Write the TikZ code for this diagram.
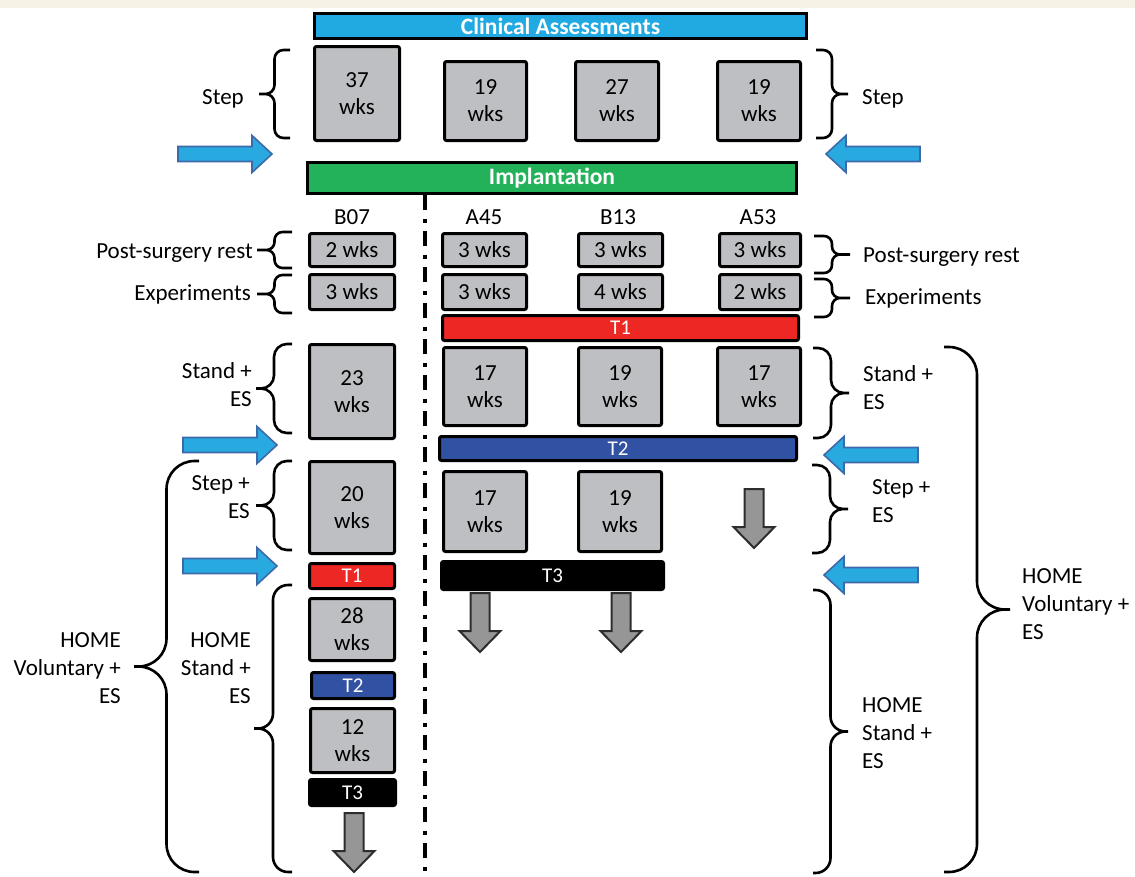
\documentclass[tikz,border=0pt]{standalone}
\usepackage{fontspec}
\setmainfont{Carlito}
\usetikzlibrary{calc}

\definecolor{clinblue}{RGB}{33,169,225}
\definecolor{implgreen}{RGB}{35,177,90}
\definecolor{t1red}{RGB}{237,40,36}
\definecolor{t2blue}{RGB}{49,81,163}
\definecolor{boxgray}{RGB}{190,191,194}
\definecolor{arrowblue}{RGB}{40,170,225}
\definecolor{arrowedge}{RGB}{62,104,168}
\definecolor{arrowgray}{RGB}{150,150,150}
\definecolor{arrowdark}{RGB}{45,45,45}
\definecolor{cream}{RGB}{246,242,229}

% block arrows: tail x, centre y
\newcommand{\bluearrowright}[2]{\draw[bluearrow] (#1,#2) ++(0,-7.5) -- ++(74,0) -- ++(0,-11) -- ++(20,18.5) -- ++(-20,18.5) -- ++(0,-11) -- ++(-74,0) -- cycle;}
\newcommand{\bluearrowleft}[2]{\draw[bluearrow] (#1,#2) ++(0,-7.5) -- ++(-74,0) -- ++(0,-11) -- ++(-20,18.5) -- ++(20,18.5) -- ++(0,-11) -- ++(74,0) -- cycle;}
% down arrow: centre x, top y
\newcommand{\grayarrowdown}[2]{\draw[grayarrow] (#1,#2) ++(-9.5,0) -- ++(19,0) -- ++(0,38) -- ++(11,0) -- ++(-20.5,21) -- ++(-20.5,-21) -- ++(11,0) -- cycle;}
% curly bracket: end x, tip x, top y, bottom y, radius
\newcommand{\curly}[5]{\draw[brc, rounded corners=#5] (#1,#3) -| ({(#1+#2)/2},{(#3+#4)/2}) -- (#2,{(#3+#4)/2}) (#1,#4) -| ({(#1+#2)/2},{(#3+#4)/2}) -- (#2,{(#3+#4)/2});}

\begin{document}
\begin{tikzpicture}[x=1pt,y=-1pt,
    wkbox/.style={draw, line width=3pt, fill=boxgray, rounded corners=2pt, inner sep=0pt, align=center, font=\fontsize{23}{27}\selectfont},
    tbar/.style={draw, line width=3pt, rounded corners=2pt, inner sep=0pt, text=white, font=\fontsize{21}{24}\selectfont},
    headbar/.style={draw, line width=3pt, inner sep=0pt, text=white, font=\bfseries\fontsize{23.5}{26}\selectfont},
    lab/.style={inner sep=0pt, font=\fontsize{23}{28}\selectfont},
    brc/.style={line width=2.6pt},
    bluearrow/.style={fill=arrowblue, draw=arrowedge, line width=1.6pt},
    grayarrow/.style={fill=arrowgray, draw=arrowdark, line width=2pt}]
  \useasboundingbox (0,0) rectangle (1135,876);
  \fill[cream] (0,0) rectangle (1135,8);

  % pre-implantation
  \node[headbar, fill=clinblue, minimum width=492, minimum height=25] (clin) at (560.5,26) {Clinical Assessments};
  \node[wkbox, minimum width=85, minimum height=94] (preB07) at (357,93.5) {37\\wks};
  \node[wkbox, minimum width=82, minimum height=79] (preA45) at (485.5,101) {19\\wks};
  \node[wkbox, minimum width=83, minimum height=79] (preB13) at (617,101) {27\\wks};
  \node[wkbox, minimum width=83, minimum height=79] (preA53) at (759,101) {19\\wks};
  \curly{290}{259}{50}{138}{9}
  \curly{816}{848}{50}{138}{9}
  \node[lab, anchor=base east] (preL) at (244,104) {Step};
  \node[lab, anchor=base west] (preR) at (862,104) {Step};
  \bluearrowright{178}{154}
  \bluearrowleft{920}{154}

  \node[headbar, fill=implgreen, minimum width=489, minimum height=31] (impl) at (552,178) {Implantation};
  \node[lab, anchor=base] (nB07) at (352,224) {B07};
  \node[lab, anchor=base] (nA45) at (484,224) {A45};
  \node[lab, anchor=base] (nB13) at (618,224) {B13};
  \node[lab, anchor=base] (nA53) at (758,224) {A53};
  \coordinate (divbot) at (425,876);
  \draw[line width=3.2pt, dash pattern=on 15pt off 8.5pt on 4pt off 8.5pt] (impl.south -| divbot) -- (divbot);

  % rest and experiments
  \node[wkbox, minimum width=85, minimum height=33] (restB07) at (352,250) {2 wks};
  \node[wkbox, minimum width=84, minimum height=33] (restA45) at (484.5,250) {3 wks};
  \node[wkbox, minimum width=84, minimum height=33] (restB13) at (620.5,250) {3 wks};
  \node[wkbox, minimum width=81, minimum height=33] (restA53) at (760,250) {3 wks};
  \node[wkbox, minimum width=85, minimum height=35] (expB07) at (352,292) {3 wks};
  \node[wkbox, minimum width=84, minimum height=35] (expA45) at (484.5,292) {3 wks};
  \node[wkbox, minimum width=84, minimum height=35] (expB13) at (620.5,292) {4 wks};
  \node[wkbox, minimum width=81, minimum height=35] (expA53) at (760,292) {2 wks};
  \curly{292}{257}{232}{268}{8}
  \curly{292}{257}{275}{313}{8}
  \curly{814}{850}{236}{273}{8}
  \curly{814}{850}{279}{317}{8}
  \node[lab, anchor=base east] (restL) at (253,258) {Post-surgery rest};
  \node[lab, anchor=base east] (expL) at (251,300) {Experiments};
  \node[lab, anchor=base west] (restR) at (863,262) {Post-surgery rest};
  \node[lab, anchor=base west] (expR) at (865,304) {Experiments};

  \node[tbar, fill=t1red, minimum width=356, minimum height=25] (tA1) at (620.5,328) {T1};

  % stand + ES
  \node[wkbox, minimum width=85, minimum height=94] (standB07) at (352,391.5) {23\\wks};
  \node[wkbox, minimum width=83, minimum height=78] (standA45) at (485,386.5) {17\\wks};
  \node[wkbox, minimum width=83, minimum height=78] (standB13) at (620,386.5) {19\\wks};
  \node[wkbox, minimum width=83, minimum height=78] (standA53) at (759,386.5) {17\\wks};
  \curly{292}{256}{344}{433}{13}
  \curly{813}{849}{348}{438}{13}
  \node[lab, anchor=east, align=right] (standL) at (252,384.5) {Stand +\\ES};
  \node[lab, anchor=west, align=left] (standR) at (863,388) {Stand +\\ES};

  \node[tbar, fill=t2blue, minimum width=357, minimum height=24] (tA2) at (618,448.5) {T2};
  \bluearrowright{183}{445}
  \bluearrowleft{918}{455}

  % step + ES
  \node[wkbox, minimum width=85, minimum height=92] (stepB07) at (352,507.5) {20\\wks};
  \node[wkbox, minimum width=83, minimum height=80] (stepA45) at (485,511.5) {17\\wks};
  \node[wkbox, minimum width=83, minimum height=80] (stepB13) at (620,511.5) {19\\wks};
  \grayarrowdown{754}{489}
  \curly{292}{256}{461}{550}{13}
  \curly{812}{848}{465}{553}{13}
  \node[lab, anchor=east, align=right] (stepL) at (250,497.5) {Step +\\ES};
  \node[lab, anchor=west, align=left] (stepR) at (872,501.5) {Step +\\ES};

  \bluearrowright{183}{566}
  \bluearrowleft{918}{575}
  \node[tbar, fill=t1red, minimum width=85, minimum height=25] (tB1) at (352,576) {T1};
  \node[tbar, fill=black, minimum width=222, minimum height=28] (tA3) at (552.5,575.5) {T3};
  \grayarrowdown{480}{593}
  \grayarrowdown{621}{593}

  % home
  \node[wkbox, minimum width=85, minimum height=62] (homeB07) at (352,629.5) {28\\wks};
  \node[tbar, fill=t2blue, minimum width=83, minimum height=26] (tB2) at (353,685.5) {T2};
  \node[wkbox, minimum width=84, minimum height=64] (homeB07b) at (352.5,740.5) {12\\wks};
  \node[tbar, fill=black, minimum width=86, minimum height=26] (tB3) at (352.5,792.5) {T3};
  \grayarrowdown{354}{813}
  \curly{292}{254}{585}{872}{15}
  \curly{199}{134}{461}{872}{28}
  \curly{813}{848}{590}{873}{15}
  \curly{944}{1010}{347}{872}{28}
  \node[lab, anchor=east, align=right] (homeL) at (251,668) {HOME\\Stand +\\ES};
  \node[lab, anchor=east, align=right] (volL) at (121,668) {HOME\\Voluntary +\\ES};
  \node[lab, anchor=west, align=left] (homeR) at (862,733) {HOME\\Stand +\\ES};
  \node[lab, anchor=west, align=left] (volR) at (1022,604) {HOME\\Voluntary +\\ES};
\end{tikzpicture}
\end{document}
